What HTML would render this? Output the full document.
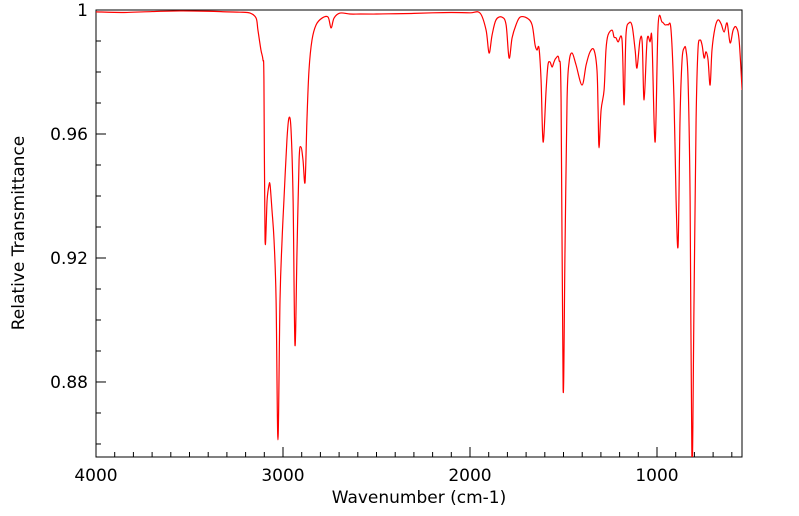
<!DOCTYPE html>
<html><head><meta charset="utf-8"><style>
body{margin:0;background:#fff;}
svg{display:block;font-family:"DejaVu Sans","Liberation Sans",sans-serif;}
</style></head><body>
<svg id="chart" width="799" height="516">
<defs><clipPath id="clip"><rect x="96" y="10" width="646" height="447"/></clipPath></defs>
<rect x="96" y="10" width="646" height="447" fill="#fff" stroke="#000" stroke-width="1"/>
<g id="axes"></g>
<g clip-path="url(#clip)"><path id="line" fill="none" stroke="#ff0000" stroke-width="1.2" stroke-linejoin="round"/></g>
<text x="419" y="503" text-anchor="middle" font-size="17">Wavenumber (cm-1)</text>
<text transform="translate(24,233) rotate(-90)" text-anchor="middle" font-size="17">Relative Transmittance</text>
</svg>
<script>
const wavenumbers=[4000,3850,3700,3550,3400,3300,3230,3176,3144,3134,3118,3107,3102,3096,3085,3075,3069,3059,3048,3037,3027,3016,3005,2995,2979,2968,2957,2946,2936,2925,2914,2904,2893,2882,2872,2861,2845,2823,2791,2759,2743,2727,2695,2642,2588,2500,2400,2300,2200,2100,2000,1946,1914,1898,1882,1861,1829,1807,1791,1775,1754,1732,1695,1668,1652,1642,1631,1620,1609,1593,1583,1572,1561,1551,1540,1524,1513,1502,1492,1481,1470,1454,1433,1401,1379,1358,1337,1321,1315,1310,1299,1283,1273,1262,1240,1230,1219,1208,1187,1176,1166,1150,1133,1117,1107,1091,1079,1069,1053,1037,1027,1010,994,973,957,941,925,909,898,887,877,866,855,845,834,823,813,802,791,781,770,759,748,738,727,716,706,690,674,657,641,625,609,593,577,561,545];
const transmittance=[0.9994,0.9992,0.9995,0.9997,0.9996,0.9994,0.9993,0.9990,0.9974,0.9935,0.9871,0.9839,0.9774,0.9258,0.9387,0.9435,0.9435,0.9355,0.9258,0.9064,0.8613,0.9064,0.9258,0.9387,0.9581,0.9652,0.9613,0.9387,0.8919,0.9226,0.9516,0.9558,0.9516,0.9445,0.9645,0.9806,0.9903,0.9952,0.9974,0.9977,0.9942,0.9974,0.9990,0.9987,0.9987,0.9987,0.9988,0.9989,0.9991,0.9992,0.9991,0.9990,0.9935,0.9861,0.9919,0.9968,0.9977,0.9952,0.9845,0.9910,0.9952,0.9977,0.9974,0.9952,0.9887,0.9871,0.9877,0.9774,0.9574,0.9742,0.9823,0.9832,0.9816,0.9832,0.9845,0.9839,0.9710,0.8777,0.9226,0.9710,0.9832,0.9861,0.9823,0.9758,0.9823,0.9865,0.9871,0.9806,0.9677,0.9555,0.9677,0.9742,0.9871,0.9919,0.9935,0.9913,0.9910,0.9897,0.9903,0.9694,0.9919,0.9958,0.9948,0.9871,0.9813,0.9903,0.9894,0.9710,0.9903,0.9897,0.9903,0.9574,0.9952,0.9961,0.9952,0.9952,0.9935,0.9710,0.9387,0.9242,0.9645,0.9839,0.9877,0.9871,0.9774,0.9387,0.8516,0.9064,0.9645,0.9871,0.9903,0.9887,0.9845,0.9865,0.9839,0.9758,0.9871,0.9942,0.9968,0.9955,0.9929,0.9958,0.9894,0.9935,0.9945,0.9903,0.9742];
const xTicks=[4000,3000,2000,1000];
const yTicks=[1,0.96,0.92,0.88];
const yTickLabels=["1","0.96","0.92","0.88"];
const X0=96,X1=742,Y0=10,Y1=457;
const xMax=4000,xMin=545.5,yMax=1,yMin=0.8558;
function sx(w){return X0+(xMax-w)/(xMax-xMin)*(X1-X0);}
function sy(t){return Y0+(yMax-t)/(yMax-yMin)*(Y1-Y0);}
const NS="http://www.w3.org/2000/svg";
const axes=document.getElementById('axes');
function ln(x1,y1,x2,y2,name){const l=document.createElementNS(NS,'line');l.setAttribute('x1',x1);l.setAttribute('y1',y1);l.setAttribute('x2',x2);l.setAttribute('y2',y2);l.setAttribute('stroke','#000');


axes.appendChild(l);}
function tx(x,y,s,anchor,name){const t=document.createElementNS(NS,'text');t.setAttribute('x',x);t.setAttribute('y',y);t.setAttribute('text-anchor',anchor);t.setAttribute('font-size','17');t.textContent=s;


axes.appendChild(t);}
for(let w=4000;w>=xMin;w-=100){const x=sx(w);const major=w%1000===0;ln(x,Y1,x,Y1-(major?10:5),major?'x-major-tick':'x-minor-tick');}
for(let t=1;t>=yMin;t=Math.round((t-0.01)*100)/100){const y=sy(t);const major=yTicks.some(v=>Math.abs(v-t)<1e-6);ln(X0,y,X0+(major?10:5),y,major?'y-major-tick':'y-minor-tick');}
xTicks.forEach(w=>tx(sx(w),Y1+24,String(w),'middle','x-tick-label'));
yTicks.forEach((t,i)=>tx(X0-8,sy(t)+6,yTickLabels[i],'end','y-tick-label'));
const pts=wavenumbers.map((w,i)=>[sx(w),sy(transmittance[i])]);
let d='M'+pts[0][0].toFixed(2)+','+pts[0][1].toFixed(2);
for(let i=0;i<pts.length-1;i++){const p0=pts[Math.max(0,i-1)],p1=pts[i],p2=pts[i+1],p3=pts[Math.min(pts.length-1,i+2)];
const c1x=p1[0]+(p2[0]-p0[0])/6,c1y=p1[1]+(p2[1]-p0[1])/6,c2x=p2[0]-(p3[0]-p1[0])/6,c2y=p2[1]-(p3[1]-p1[1])/6;
d+='C'+c1x.toFixed(2)+','+c1y.toFixed(2)+' '+c2x.toFixed(2)+','+c2y.toFixed(2)+' '+p2[0].toFixed(2)+','+p2[1].toFixed(2);}
document.getElementById('line').setAttribute('d',d);
</script>
</body></html>
